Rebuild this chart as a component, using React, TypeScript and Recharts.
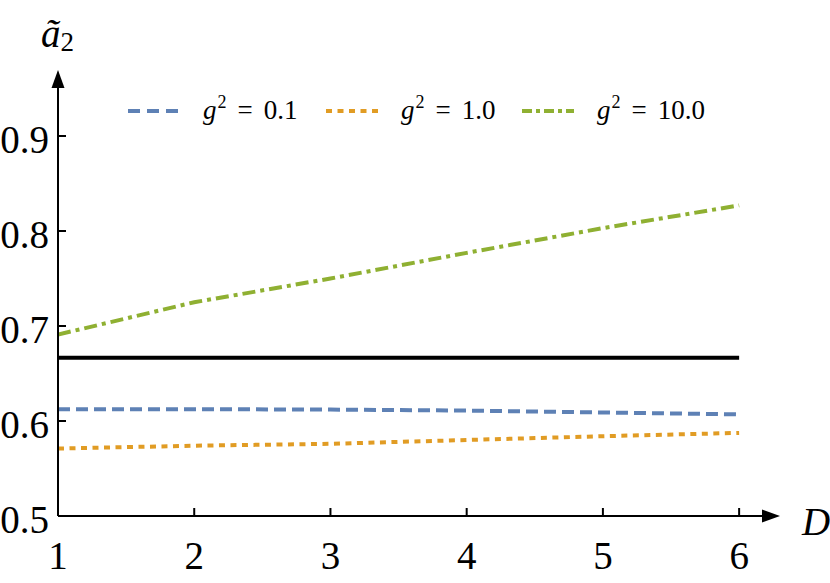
import { LineChart, Line, XAxis, YAxis, ReferenceLine, Legend } from "recharts"

const dims = [1, 2, 3, 4, 5, 6]
const weak = [0.6125, 0.6125, 0.612, 0.611, 0.609, 0.607]
const mid = [0.571, 0.574, 0.576, 0.58, 0.584, 0.5875]
const strong = [0.691, 0.725, 0.75, 0.777, 0.803, 0.827]
const limit = [0.6667, 0.6667, 0.6667, 0.6667, 0.6667, 0.6667]
const xTicks = [1, 2, 3, 4, 5, 6]
const yTicks = [0.5, 0.6, 0.7, 0.8, 0.9]

const data = dims.map((d, i) => ({ d, weak: weak[i], mid: mid[i], strong: strong[i], limit: limit[i] }))

const serif = "Liberation Serif"
const BLUE = "#5E81B5"
const ORANGE = "#E19C24"
const GREEN = "#8FB032"

const series = [
  { key: "weak", color: BLUE, dash: "12 6", legendDash: "12 7", label: "0.1", w: 100 },
  { key: "mid", color: ORANGE, dash: "6 5.5", legendDash: "6 5.5", label: "1.0", w: 98 },
  { key: "strong", color: GREEN, dash: "13 5 4 5", legendDash: "10 4 4 4", label: "10.0", w: 112 },
]

// axis line with an arrowhead at the far end
function ArrowAxis(p: any) {
  const { x1, y1, x2, y2 } = p
  const len = Math.hypot(x2 - x1, y2 - y1) || 1
  const ux = (x2 - x1) / len, uy = (y2 - y1) / len
  const hl = 18, hw = 6.5
  const bx = x2 - ux * hl, by = y2 - uy * hl
  const pts = `${x2},${y2} ${bx - uy * hw},${by + ux * hw} ${bx + uy * hw},${by - ux * hw}`
  return (
    <g>
      <line x1={x1} y1={y1} x2={bx + ux * 2} y2={by + uy * 2} stroke="#000" strokeWidth={2} />
      <polygon points={pts} fill="#000" />
    </g>
  )
}

function YTick(p: any) {
  const { x, y, payload } = p
  return (
    <g>
      <line x1={x} y1={y} x2={x + 8} y2={y} stroke="#000" strokeWidth={2} />
      <text x={x - 9} y={y + 17} textAnchor="end" style={{ fontFamily: serif }} fontSize={39} fill="#000">{payload.value.toFixed(1)}</text>
    </g>
  )
}

function XTick(p: any) {
  const { x, y, payload } = p
  return (
    <g>
      {payload.value !== 1 && <line x1={x} y1={y} x2={x} y2={y - 8} stroke="#000" strokeWidth={2} />}
      <text x={x} y={y + 53} textAnchor="middle" style={{ fontFamily: serif }} fontSize={39} fill="#000">{payload.value}</text>
    </g>
  )
}

function LegendBox() {
  return (
    <div style={{ display: "flex", alignItems: "center", fontFamily: serif, fontSize: 27, lineHeight: 1, color: "#000" }}>
      {series.map((s) => (
        <div key={s.key} style={{ display: "flex", alignItems: "center" }}>
          <svg width={52} height={10} style={{ marginRight: 23 }}>
            <line x1={0} y1={5} x2={52} y2={5} stroke={s.color} strokeWidth={4} strokeDasharray={s.legendDash} />
          </svg>
          <span style={{ display: "inline-block", width: s.w, marginRight: 23, whiteSpace: "nowrap" }}>
            <i>g</i>
            <span style={{ fontSize: 18, position: "relative", top: -11, marginLeft: 1 }}>2</span>
            <span style={{ margin: "0 11px" }}>=</span>
            {s.label}
          </span>
        </div>
      ))}
    </div>
  )
}

export default function App() {
  return (
    <div style={{ position: "absolute", left: 0, top: 0, width: 830, height: 583, background: "#fff", fontFamily: serif }}>
      <LineChart width={830} height={583} data={data} margin={{ top: 70, right: 50, left: 0, bottom: 0 }}>
        <XAxis
          dataKey="d"
          type="number"
          domain={[1, 6.3]}
          allowDataOverflow
          ticks={xTicks}
          height={67}
          axisLine={false}
          tickLine={false}
          tickSize={0}
          tickMargin={0}
          tick={<XTick />}
          label={{
            content: (lp: any) => {
              const vb = lp.viewBox
              return <text x={vb.x + vb.width + 22} y={vb.y + 19} style={{ fontFamily: serif }} fontStyle="italic" fontSize={39} fill="#000">D</text>
            },
          }}
        />
        <YAxis
          type="number"
          domain={[0.5, 0.9695]}
          allowDataOverflow
          ticks={yTicks}
          width={58}
          axisLine={false}
          tickLine={false}
          tickSize={0}
          tickMargin={0}
          tick={<YTick />}
          label={{
            content: (lp: any) => {
              const vb = lp.viewBox
              return (
                <text x={vb.x + 41} y={vb.y - 23} style={{ fontFamily: serif }} fontSize={39} fill="#000">
                  <tspan fontStyle="italic">ã</tspan>
                  <tspan fontSize={27} dy={4}>2</tspan>
                </text>
              )
            },
          }}
        />
        <Legend layout="horizontal" verticalAlign="middle" content={<LegendBox />} wrapperStyle={{ position: "absolute", top: 97, left: 128, width: "auto" }} />
        <Line dataKey="limit" stroke="#000" strokeWidth={4} dot={false} isAnimationActive={false} legendType="none" />
        {series.map((s) => (
          <Line key={s.key} dataKey={s.key} stroke={s.color} strokeWidth={4} strokeDasharray={s.dash} dot={false} isAnimationActive={false} />
        ))}
        <ReferenceLine segment={[{ x: 1, y: 0.5 }, { x: 1, y: 0.9695 }]} shape={ArrowAxis} ifOverflow="visible" />
        <ReferenceLine segment={[{ x: 1, y: 0.5 }, { x: 6.3, y: 0.5 }]} shape={ArrowAxis} ifOverflow="visible" />
      </LineChart>
    </div>
  )
}
